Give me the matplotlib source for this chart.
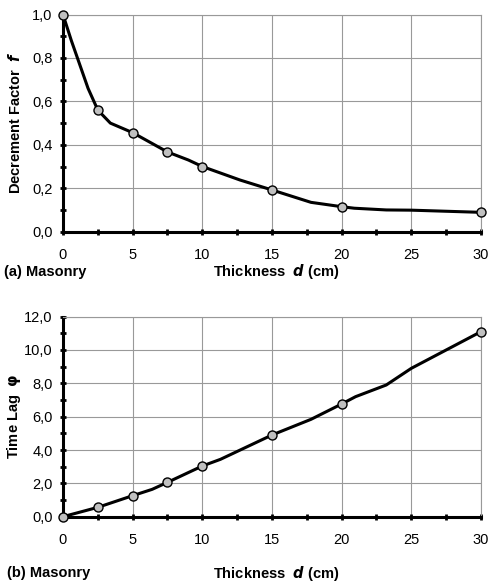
import matplotlib.pyplot as plt

plt.rcParams['font.family'] = ['Liberation Sans', 'DejaVu Sans']

# decrement factor curve (line vertices) and measured points
f_line_x = [0, 0.6, 1.2, 1.8, 2.5, 3.4, 5, 7.5, 9, 10, 12.7, 15, 17.8, 20, 20.9, 23.2, 25, 30]
f_line_y = [1.0, 0.88, 0.77, 0.66, 0.56, 0.50, 0.456, 0.367, 0.33, 0.30, 0.238, 0.192, 0.135, 0.115, 0.108, 0.10, 0.099, 0.089]
f_pts_x = [0, 2.5, 5, 7.5, 10, 15, 20, 30]
f_pts_y = [1.0, 0.56, 0.456, 0.367, 0.30, 0.192, 0.115, 0.089]

# time lag curve (line vertices) and measured points
t_line_x = [0, 2.5, 5, 6.4, 7.5, 10, 11.3, 15, 17.8, 20, 21, 23.2, 25, 30]
t_line_y = [0.0, 0.56, 1.26, 1.64, 2.06, 3.04, 3.44, 4.9, 5.84, 6.76, 7.2, 7.9, 8.9, 11.1]
t_pts_x = [0, 2.5, 5, 7.5, 10, 15, 20, 30]
t_pts_y = [0.0, 0.56, 1.26, 2.06, 3.04, 4.9, 6.76, 11.1]

x_ticks = [0, 5, 10, 15, 20, 25, 30]

fig = plt.figure(figsize=(4.91, 5.85), dpi=100)
ax1 = fig.add_axes([0.1283, 0.604, 0.8513, 0.3711])
ax2 = fig.add_axes([0.1283, 0.1168, 0.8513, 0.3419])


def style(ax, yticks, yminor, fmt):
    ax.set_xlim(0, 30)
    ax.set_xticks(x_ticks)
    ax.set_xticks([2.5 + 5 * i for i in range(6)], minor=True)
    ax.set_yticks(yticks)
    ax.set_yticks(yminor, minor=True)
    ax.set_yticklabels([fmt.format(v).replace('.', ',') for v in yticks])
    ax.set_ylim(yticks[0], yticks[-1])
    ax.grid(True, which='major', color='#999999', linewidth=0.8)
    ax.set_axisbelow(True)
    for s in ['top', 'right']:
        ax.spines[s].set_color('#999999')
        ax.spines[s].set_linewidth(0.8)
    for s in ['left', 'bottom']:
        ax.spines[s].set_color('black')
        ax.spines[s].set_linewidth(2.2)
    ax.tick_params(which='both', direction='inout', width=2, labelsize=10.5,
                   colors='black')
    ax.tick_params(which='major', length=5)
    ax.tick_params(axis='x', which='major', pad=9)
    ax.tick_params(axis='y', which='major', pad=5)
    ax.tick_params(which='minor', length=5)


lab = dict(fontsize=10.5, fontweight='bold')

ax1.plot(f_line_x, f_line_y, color='black', lw=2.2, zorder=3, clip_on=False)
ax1.plot(f_pts_x, f_pts_y, 'o', ms=6.5, mfc='#c0c0c0', mec='black', mew=1,
         zorder=4, clip_on=False)
style(ax1, [0.0, 0.2, 0.4, 0.6, 0.8, 1.0], [0.1, 0.3, 0.5, 0.7, 0.9], '{:.1f}')
ax1.set_ylabel('Decrement Factor  $\\boldsymbol{f}$', **lab)
ax1.yaxis.set_label_coords(-0.095, 0.5)
ax1.text(-0.14, -0.184, '(a) Masonry', transform=ax1.transAxes,
         ha='left', va='center', **lab)
ax1.text(0.51, -0.184, 'Thickness  $\\boldsymbol{d}$ (cm)', transform=ax1.transAxes,
         ha='center', va='center', **lab)

ax2.plot(t_line_x, t_line_y, color='black', lw=2.2, zorder=3, clip_on=False)
ax2.plot(t_pts_x, t_pts_y, 'o', ms=6.5, mfc='#c0c0c0', mec='black', mew=1,
         zorder=4, clip_on=False)
style(ax2, [0.0, 2.0, 4.0, 6.0, 8.0, 10.0, 12.0],
      [1, 3, 5, 7, 9, 11], '{:.1f}')
ax2.set_ylabel('Time Lag  $\\boldsymbol{\\varphi}$', **lab)
ax2.yaxis.set_label_coords(-0.095, 0.5)
ax2.text(-0.135, -0.282, '(b) Masonry', transform=ax2.transAxes,
         ha='left', va='center', **lab)
ax2.text(0.51, -0.282, 'Thickness  $\\boldsymbol{d}$ (cm)', transform=ax2.transAxes,
         ha='center', va='center', **lab)

fig.savefig('out.png', dpi=100)
